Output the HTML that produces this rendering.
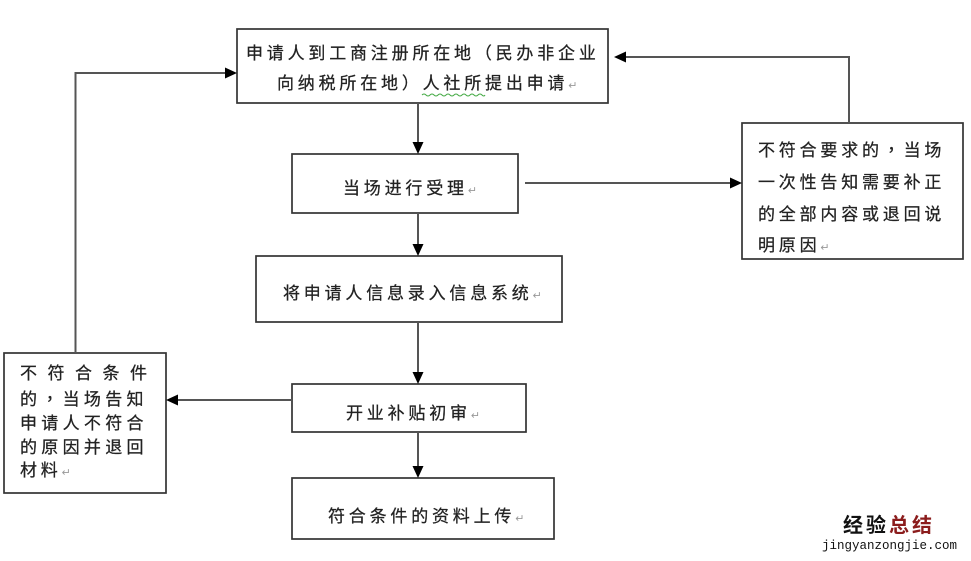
<!DOCTYPE html>
<html><head><meta charset="utf-8"><style>
html,body{margin:0;padding:0;background:#fff;}
svg{display:block;}
.t{font-family:"Liberation Sans","Noto Sans CJK SC",sans-serif;font-size:17px;fill:#222;stroke:#222;stroke-width:0.25;letter-spacing:3.8px;}
.r{font-size:11px;fill:#999;stroke:none;letter-spacing:0;}
.p{font-family:"Noto Sans CJK TC",sans-serif;}
</style></head><body>
<svg width="971" height="561" viewBox="0 0 971 561" xmlns="http://www.w3.org/2000/svg">
<g fill="#fff" stroke="#333" stroke-width="1.7">
<rect x="237" y="29" width="371" height="74"/>
<rect x="292" y="154" width="226" height="59"/>
<rect x="742" y="123" width="221" height="136"/>
<rect x="256" y="256" width="306" height="66"/>
<rect x="292" y="384" width="234" height="48"/>
<rect x="292" y="478" width="262" height="61"/>
<rect x="4" y="353" width="162" height="140"/>
</g>
<g stroke="#555" stroke-width="2" fill="none">
<line x1="418" y1="103" x2="418" y2="144"/>
<line x1="418" y1="213" x2="418" y2="246"/>
<line x1="418" y1="322" x2="418" y2="374"/>
<line x1="418" y1="432" x2="418" y2="468"/>
<line x1="525" y1="183" x2="732" y2="183"/>
<polyline points="849,123 849,57 624,57"/>
<line x1="292" y1="400" x2="176" y2="400"/>
<polyline points="75.5,353 75.5,73 227,73"/>
</g>
<g fill="#000">
<polygon points="412.5,142 423.5,142 418,154"/>
<polygon points="412.5,244 423.5,244 418,256"/>
<polygon points="412.5,372 423.5,372 418,384"/>
<polygon points="412.5,466 423.5,466 418,478"/>
<polygon points="730,177.5 730,188.5 742,183"/>
<polygon points="626,51.5 626,62.5 614,57"/>
<polygon points="178,394.5 178,405.5 166,400"/>
<polygon points="225,67.5 225,78.5 237,73"/>
</g>
<text class="t" x="246" y="59">申请人到工商注册所在地<tspan class="p">（</tspan>民办非企业</text>
<text class="t" x="277" y="89">向纳税所在地<tspan class="p">）</tspan>人社所提出申请<tspan class="r">↵</tspan></text>
<path d="M422 95 q2 -2 4 0 t4 0 t4 0 t4 0 t4 0 t4 0 t4 0 t4 0 t4 0 t4 0 t4 0 t4 0 t4 0 t4 0 t4 0 t3 0" stroke="#4a4" stroke-width="1" fill="none"/>
<text class="t" x="343" y="194">当场进行受理<tspan class="r">↵</tspan></text>
<text class="t" x="283" y="299">将申请人信息录入信息系统<tspan class="r">↵</tspan></text>
<text class="t" x="346" y="419">开业补贴初审<tspan class="r">↵</tspan></text>
<text class="t" x="328" y="522">符合条件的资料上传<tspan class="r">↵</tspan></text>
<text class="t" x="758" y="156">不符合要求的<tspan class="p">，</tspan>当场</text>
<text class="t" x="758" y="188">一次性告知需要补正</text>
<text class="t" x="758" y="220">的全部内容或退回说</text>
<text class="t" x="758" y="251">明原因<tspan class="r">↵</tspan></text>
<text class="t" x="20" y="379" style="letter-spacing:10.5px">不符合条件</text>
<text class="t" x="20" y="405" style="letter-spacing:4.3px">的<tspan class="p">，</tspan>当场告知</text>
<text class="t" x="20" y="429" style="letter-spacing:4.3px">申请人不符合</text>
<text class="t" x="20" y="453" style="letter-spacing:4.3px">的原因并退回</text>
<text class="t" x="20" y="476">材料<tspan class="r">↵</tspan></text>
<text x="843" y="532" style="font-family:'Liberation Sans','Noto Sans CJK SC',sans-serif;font-size:20px;font-weight:bold;letter-spacing:3px;fill:#111">经验<tspan fill="#8b1c1c">总结</tspan></text>
<text x="822" y="549" style="font-family:'Liberation Mono',monospace;font-size:12.5px;fill:#111">jingyanzongjie.com</text>
</svg>
</body></html>
